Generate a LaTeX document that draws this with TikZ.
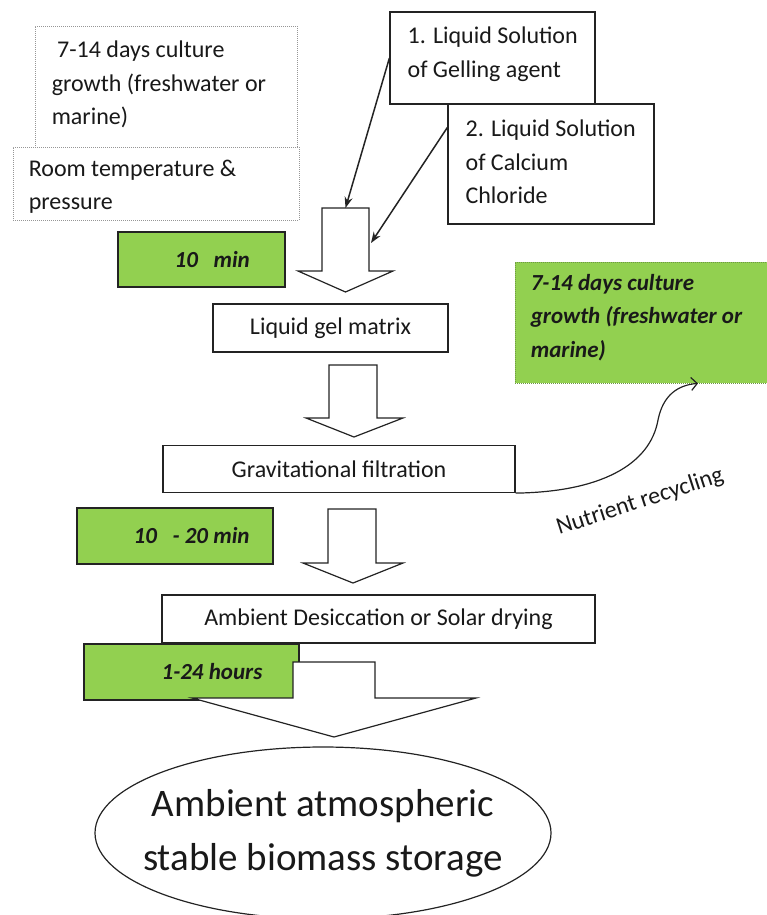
\documentclass[tikz,border=0pt]{standalone}
\usepackage{fontspec}
\setmainfont{Carlito}
\usetikzlibrary{
  shapes.geometric,
  arrows.meta,
  positioning,
  calc
}
\definecolor{stepgreen}{RGB}{146, 208, 80}
\definecolor{linecolor}{RGB}{35, 35, 35}
\definecolor{dotcolor}{RGB}{150, 150, 150}
\definecolor{dotgreen}{RGB}{110, 150, 70}
\definecolor{textcolor}{RGB}{25, 25, 25}
\tikzset{
boxtext/.style={
  font=\fontsize{24}{33.5}\selectfont,
  text=textcolor
},
linestext/.style={
  boxtext,
  align=left,
  inner sep=0pt,
  anchor=west
},
solidbox/.style={
  rectangle,
  draw=linecolor,
  line width=1.2pt,
  fill=white,
  inner sep=0pt,
  boxtext
},
dotbox/.style={
  rectangle,
  draw=dotcolor,
  dash pattern=on 1pt off 1pt,
  line width=0.8pt,
  fill=white
},
greenbox/.style={
  rectangle,
  draw=linecolor,
  line width=1.2pt,
  fill=stepgreen
},
greentext/.style={
  font=\fontsize{23}{33.5}\selectfont\bfseries\itshape,
  text=textcolor,
  align=left,
  inner sep=0pt,
  anchor=west
},
blockarrow/.style={
  draw=linecolor,
  line width=1.2pt,
  fill=white,
  line join=miter
},
connector/.style={
  -{Stealth[length=11pt,width=8pt]},
  line width=1.5pt,
  draw=linecolor
},
recycle/.style={
  -{Straight Barb[length=6pt,width=13pt]},
  line width=1.2pt,
  draw=linecolor
}
}

\begin{document}
\begin{tikzpicture}[x=1pt, y=-1pt]
\useasboundingbox (0,0) rectangle (766,915);

% conditions
\node[dotbox, minimum width=262, minimum height=121] (culture) at (166,86.5) {};
\node[linestext] (culturetext) at ($(culture.west)+(17,-2)$)
  {\ 7-14 days culture\\growth (freshwater or\\marine)};
\node[dotbox, minimum width=286, minimum height=73] (roomtp) at (156,183.5) {};
\node[linestext] (roomtptext) at ($(roomtp.west)+(16,3)$) {Room temperature \&\\pressure};

% inputs
\node[solidbox, minimum width=205, minimum height=92] (gelling) at (492.5,58) {};
\node[linestext] (gellingtext) at ($(gelling.west)+(18,-4)$) {1. Liquid Solution\\of Gelling agent};
\node[solidbox, minimum width=206, minimum height=120] (calcium) at (551,164) {};
\node[linestext] (calciumtext) at ($(calcium.west)+(18,-2)$) {2. Liquid Solution\\of Calcium\\Chloride};

% first block arrow
\draw[blockarrow] (322,208) -- (369,208) -- (369,271) -- (393,271) -- (345.5,292)
  -- (298,271) -- (322,271) -- cycle;
\coordinate (shafttop) at (345.5,208);
\coordinate (shaftside) at (371,243);
\draw[connector] (gelling.west) -- (shafttop);
\draw[connector] ($(calcium.north west)+(0,24)$) -- (shaftside);

\node[greenbox, minimum width=167, minimum height=55] (tmin) at (201.5,259.5) {};
\node[greentext] (tmintext) at ($(tmin.west)+(57,0)$) {10\ \ \ min};

% process steps
\node[solidbox, minimum width=235, minimum height=48] (gelmatrix) at (330.5,328) {Liquid gel matrix};
\draw[blockarrow] (329,365) -- (377,365) -- (377,418) -- (403,418) -- (354,437)
  -- (306,418) -- (329,418) -- cycle;

\node[solidbox, minimum width=352, minimum height=47] (filtration) at (339,469) {Gravitational filtration};

\node[dotbox, draw=dotgreen, fill=stepgreen, minimum width=275, minimum height=121]
  (regrow) at (652.5,322.5) {};
\node[greentext] (regrowtext) at ($(regrow.west)+(16,-5)$)
  {7-14 days culture\\growth (freshwater or\\marine)};
\coordinate (regrowin) at ($(regrow.south)+(45.5,0)$);
\draw[recycle] (filtration.south east) .. controls (600,492) and (650,465) .. (658,420)
  .. controls (663,395) and (678,385) .. (regrowin);
\node[boxtext, rotate=18, anchor=base, inner sep=0pt] (recycling) at (642,508) {Nutrient recycling};

\node[greenbox, minimum width=196, minimum height=56] (ttwenty) at (175,536) {};
\node[greentext] (ttwentytext) at ($(ttwenty.west)+(57,0)$) {10\ \ \ - 20 min};
\draw[blockarrow] (328,509) -- (376,509) -- (376,563) -- (403,563) -- (353,583)
  -- (303,563) -- (328,563) -- cycle;

\node[solidbox, minimum width=433, minimum height=48] (drying) at (378.5,619) {Ambient Desiccation or Solar drying};

\node[greenbox, minimum width=215, minimum height=56] (thours) at (191.5,672) {};
\node[greentext] (thourstext) at ($(thours.west)+(78,0)$) {1-24 hours};
\draw[blockarrow] (293,662) -- (375,662) -- (375,698) -- (476,698) -- (334,737)
  -- (192,698) -- (293,698) -- cycle;

% storage
\node[ellipse, draw=linecolor, line width=1.2pt, minimum width=456, minimum height=172,
  font=\fontsize{39}{54}\selectfont, text=textcolor, align=center,
  inner xsep=-21pt, inner ysep=0pt]
  (storage) at (323,833) {Ambient atmospheric\\stable biomass storage};

\end{tikzpicture}
\end{document}
